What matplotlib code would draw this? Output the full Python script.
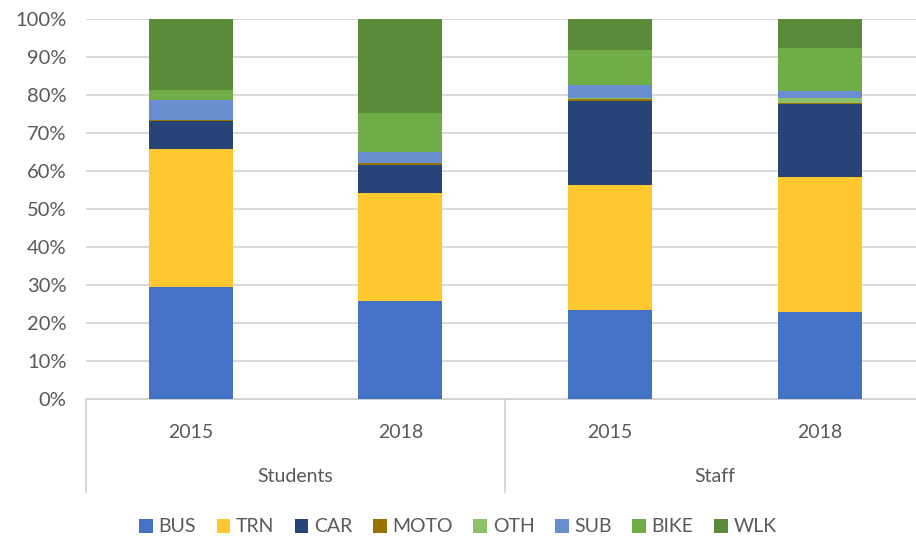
import matplotlib.pyplot as plt
import numpy as np
from matplotlib.patches import Patch

plt.rcParams['font.family'] = ['Lato', 'DejaVu Sans']

# 数据（百分比）
groups = ['Students', 'Staff']
years = ['2015', '2018', '2015', '2018']
modes = ['BUS', 'TRN', 'CAR', 'MOTO', 'OTH', 'SUB', 'BIKE', 'WLK']

BUS = [29.6, 25.7, 23.3, 23.0]
TRN = [36.1, 28.5, 32.9, 35.4]
CAR = [7.5, 7.5, 22.3, 19.1]
MOTO = [0.1, 0.3, 0.5, 0.5]
OTH = [0.1, 0.1, 0.3, 1.1]
SUB = [5.2, 2.8, 3.3, 1.9]
BIKE = [2.8, 10.4, 9.2, 11.4]
WLK = [18.7, 24.7, 8.2, 7.6]

colors = ['#4472C4', '#FFC82F', '#264478', '#997300',
          '#8CC168', '#698ED0', '#70AD47', '#5A8A3A']

series = [BUS, TRN, CAR, MOTO, OTH, SUB, BIKE, WLK]
text_col = '#595959'

fig = plt.figure(figsize=(9.16, 5.4), dpi=100)
ax = fig.add_axes([86 / 916, 0.261, 1 - 86 / 916, 0.704])

x = np.arange(len(years))
bottom = np.zeros(len(years))
for vals, name, c in zip(series, modes, colors):
    ax.bar(x, vals, 0.4, bottom=bottom, color=c, linewidth=0, label=name, zorder=3)
    bottom += np.array(vals)

ax.set_xlim(-0.5, 3.46)
ax.set_ylim(0, 100)
ax.set_yticks(np.arange(0, 101, 10))
ax.set_yticklabels([f'{v}%' for v in range(0, 101, 10)])
ax.tick_params(axis='y', length=0, labelsize=14.5, colors=text_col, pad=14)
ax.set_xticks([])
ax.grid(True, axis='y', color='#D9D9D9', linewidth=1.4, zorder=0)
for s in ['left', 'right', 'top']:
    ax.spines[s].set_visible(False)
ax.spines['bottom'].set_color('#D0D0D0')

# 分类轴标签
trans = ax.get_xaxis_transform()
for xi, yr in zip(x, years):
    ax.text(xi, -0.087, yr, transform=trans, ha='center', va='center',
            fontsize=14, color=text_col)
for gi, g in enumerate(groups):
    ax.text(gi * 2 + 0.5, -0.205, g, transform=trans, ha='center', va='center',
            fontsize=14, color=text_col)
for xv in [-0.5, 1.5]:
    ax.plot([xv, xv], [0, -0.245], transform=trans, color='#D0D0D0',
            linewidth=1.2, clip_on=False)

handles = [Patch(facecolor=c, label=m) for c, m in zip(colors, modes)]
fig.legend(handles=handles, loc='center', bbox_to_anchor=(0.5, 13 / 540), ncol=8,
           frameon=False, fontsize=14, handlelength=0.7, handleheight=0.7,
           handletextpad=0.3, columnspacing=1.05, labelcolor=text_col)

plt.savefig('out.png', dpi=100)
